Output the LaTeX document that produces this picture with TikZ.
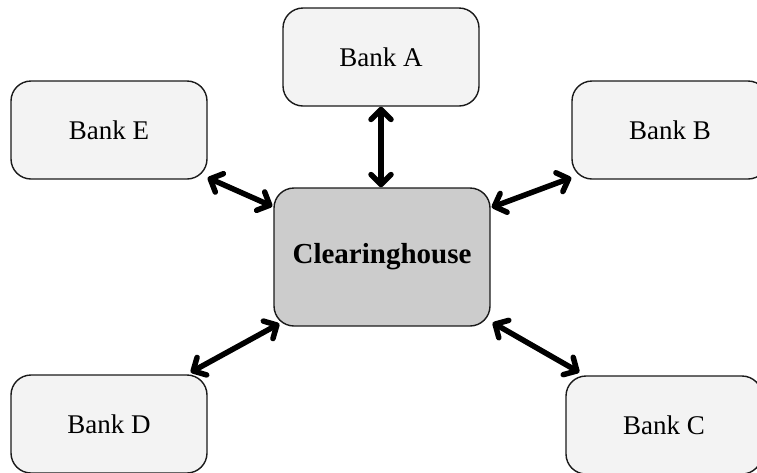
\documentclass[tikz,border=0pt]{standalone}
\usepackage{fontspec}
\setmainfont{Liberation Serif}
\usetikzlibrary{arrows.meta,calc}
\definecolor{bankfill}{HTML}{F3F3F3}
\definecolor{chfill}{HTML}{CCCCCC}
\definecolor{edge}{HTML}{1A1A1A}
\tikzset{
  bankbox/.style={draw=edge, fill=bankfill, line width=1.4pt, rounded corners=20pt,
    minimum width=196pt, minimum height=98pt, inner sep=0pt, font=\fontsize{27}{30}\selectfont},
  chbox/.style={draw=edge, fill=chfill, line width=1.4pt, rounded corners=20pt,
    minimum width=216pt, minimum height=138pt, inner sep=0pt, font=\fontsize{29}{32}\selectfont\bfseries},
  link/.style={line width=5.5pt, line cap=round,
    {Straight Barb[length=10pt,width=20pt,round]}-{Straight Barb[length=10pt,width=20pt,round]}}
}
\begin{document}
\begin{tikzpicture}[x=1pt,y=-1pt]
\useasboundingbox (0,0) rectangle (757,472);
\clip (0,0) rectangle (757,472);
\node[chbox] (ch) at (382,257) {Clearinghouse};
\node[bankbox] (a) at (381,57) {Bank A};
\node[bankbox] (e) at (109,130) {Bank E};
\node[bankbox] (b) at (670,130) {Bank B};
\node[bankbox] (d) at (109,424) {Bank D};
\node[bankbox] (c) at (664,425) {Bank C};
\draw[link] (a.south) -- (a.south |- ch.north);
\draw[link] ([yshift=2pt]e.south east) -- ([xshift=-1pt,yshift=-19pt]ch.north west);
\draw[link] ([yshift=2pt]b.south west) -- ([xshift=1pt,yshift=-20pt]ch.north east);
\draw[link] ([xshift=-17pt,yshift=2pt]d.north east) -- ([xshift=6pt,yshift=3pt]ch.south west);
\draw[link] ([xshift=14pt,yshift=3pt]c.north west) -- ([xshift=2pt,yshift=4pt]ch.south east);
\end{tikzpicture}
\end{document}
